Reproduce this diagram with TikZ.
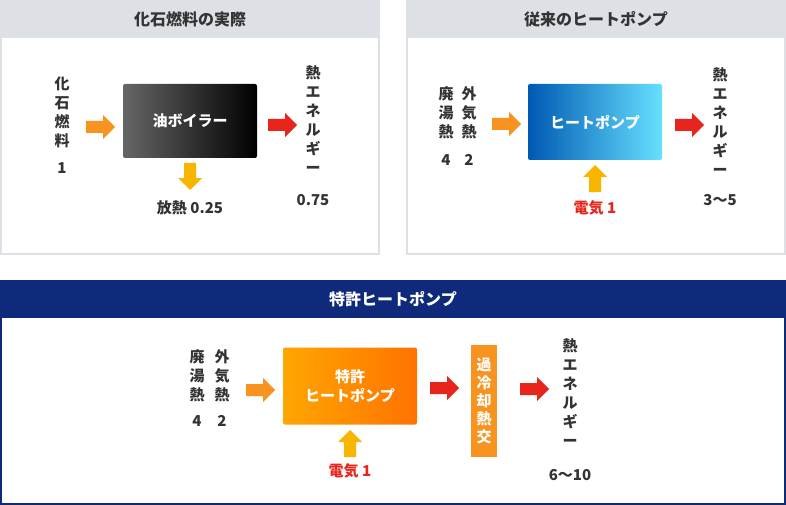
\documentclass[tikz,border=0pt]{standalone}
\usepackage{fontspec}
\setmainfont{Noto Sans CJK JP}
\usetikzlibrary{positioning}
\definecolor{hdrgrey}{HTML}{DDE1E6}
\definecolor{navy}{HTML}{0F2A7A}
\definecolor{arrorange}{HTML}{F7931E}
\definecolor{arrred}{HTML}{E8251C}
\definecolor{arryellow}{HTML}{F7B500}
\tikzset{
  txt/.style={font=\fontsize{15}{18}\selectfont\bfseries,text=black!80,align=center,inner sep=0pt},
  vtxt/.style={txt,font=\fontsize{15}{19}\selectfont\bfseries},
  boxtxt/.style={font=\fontsize{15}{19}\selectfont\bfseries,text=white,align=center},
  pics/rarr/.style={code={\fill[#1] (0,-6) -- (17,-6) -- (17,-12) -- (29,0) -- (17,12) -- (17,6) -- (0,6) -- cycle;}},
  pics/uarr/.style={code={\fill[#1] (-6,0) -- (-6,-15) -- (-12,-15) -- (0,-27) -- (12,-15) -- (6,-15) -- (6,0) -- cycle;}},
}
\begin{document}
\begin{tikzpicture}[x=1pt,y=-1pt]
\useasboundingbox (0,0) rectangle (786,505);
% panel: fossil fuel
\draw[hdrgrey,fill=white,line width=1.5pt] (1,1) rectangle (379,254);
\fill[hdrgrey] (0,0) rectangle (380,38);
\node[txt,font=\fontsize{16}{18}\selectfont\bfseries] (t1) at (190,19) {化石燃料の実際};
\node[vtxt] (fuel) at (62,112) {化\\石\\燃\\料};
\node[txt] (fuelv) at (62,168) {1};
\pic at (86,127) {rarr=arrorange};
\node[draw=none,minimum width=134pt,minimum height=74pt,left color=black!60,right color=black,rounded corners=2pt,boxtxt] (boiler) at (190,121) {油ボイラー};
\pic at (190,190) {uarr={arryellow,rotate=180,yshift=-27}};
\node[txt] (loss) at (190,208) {放熱 0.25};
\pic at (268,125) {rarr=arrred};
\node[vtxt] (heat1) at (313,120) {熱\\エ\\ネ\\ル\\ギ\\ー};
\node[txt] (heat1v) at (313,200) {0.75};
% panel: conventional heat pump
\draw[hdrgrey,fill=white,line width=1.5pt] (407,1) rectangle (785,254);
\fill[hdrgrey] (406,0) rectangle (786,38);
\node[txt,font=\fontsize{16}{18}\selectfont\bfseries] (t2) at (596,19) {従来のヒートポンプ};
\node[vtxt] (waste2) at (446,113) {廃\\湯\\熱};
\node[vtxt] (air2) at (469,113) {外\\気\\熱};
\node[txt] (waste2v) at (446,160) {4};
\node[txt] (air2v) at (469,160) {2};
\pic at (492,124) {rarr=arrorange};
\node[minimum width=134pt,minimum height=76pt,left color=blue!50!cyan!70!black,right color=cyan!80!blue!60,rounded corners=2pt,boxtxt] (hp) at (595,122) {ヒートポンプ};
\pic at (595,192) {uarr=arryellow};
\node[txt,text=arrred] (elec2) at (595,208) {電気 1};
\pic at (675,125) {rarr=arrred};
\node[vtxt] (heat2) at (720,122) {熱\\エ\\ネ\\ル\\ギ\\ー};
\node[txt] (heat2v) at (720,200) {3～5};
% panel: patented heat pump
\draw[navy,fill=white,line width=1.5pt] (1,281) rectangle (785,504);
\fill[navy] (0,280) rectangle (786,318);
\node[txt,text=white,font=\fontsize{16}{18}\selectfont\bfseries] (t3) at (393,299) {特許ヒートポンプ};
\node[vtxt] (waste3) at (197,376) {廃\\湯\\熱};
\node[vtxt] (air3) at (222,376) {外\\気\\熱};
\node[txt] (waste3v) at (197,421) {4};
\node[txt] (air3v) at (222,421) {2};
\pic at (246,390) {rarr=arrorange};
\node[minimum width=134pt,minimum height=77pt,left color=orange!70!yellow,right color=orange!90!red,rounded corners=2pt,boxtxt] (php) at (350,386) {特許\\ヒートポンプ};
\pic at (350,457) {uarr=arryellow};
\node[txt,text=arrred] (elec3) at (350,471) {電気 1};
\pic at (430,388) {rarr=arrred};
\node[fill=arrorange,minimum width=26pt,minimum height=112pt,boxtxt,inner sep=0pt,font=\fontsize{15}{18}\selectfont\bfseries] (subcool) at (484,401) {過\\冷\\却\\熱\\交};
\pic at (520,389) {rarr=arrred};
\node[vtxt] (heat3) at (570,393) {熱\\エ\\ネ\\ル\\ギ\\ー};
\node[txt] (heat3v) at (570,475) {6～10};
\end{tikzpicture}
\end{document}
